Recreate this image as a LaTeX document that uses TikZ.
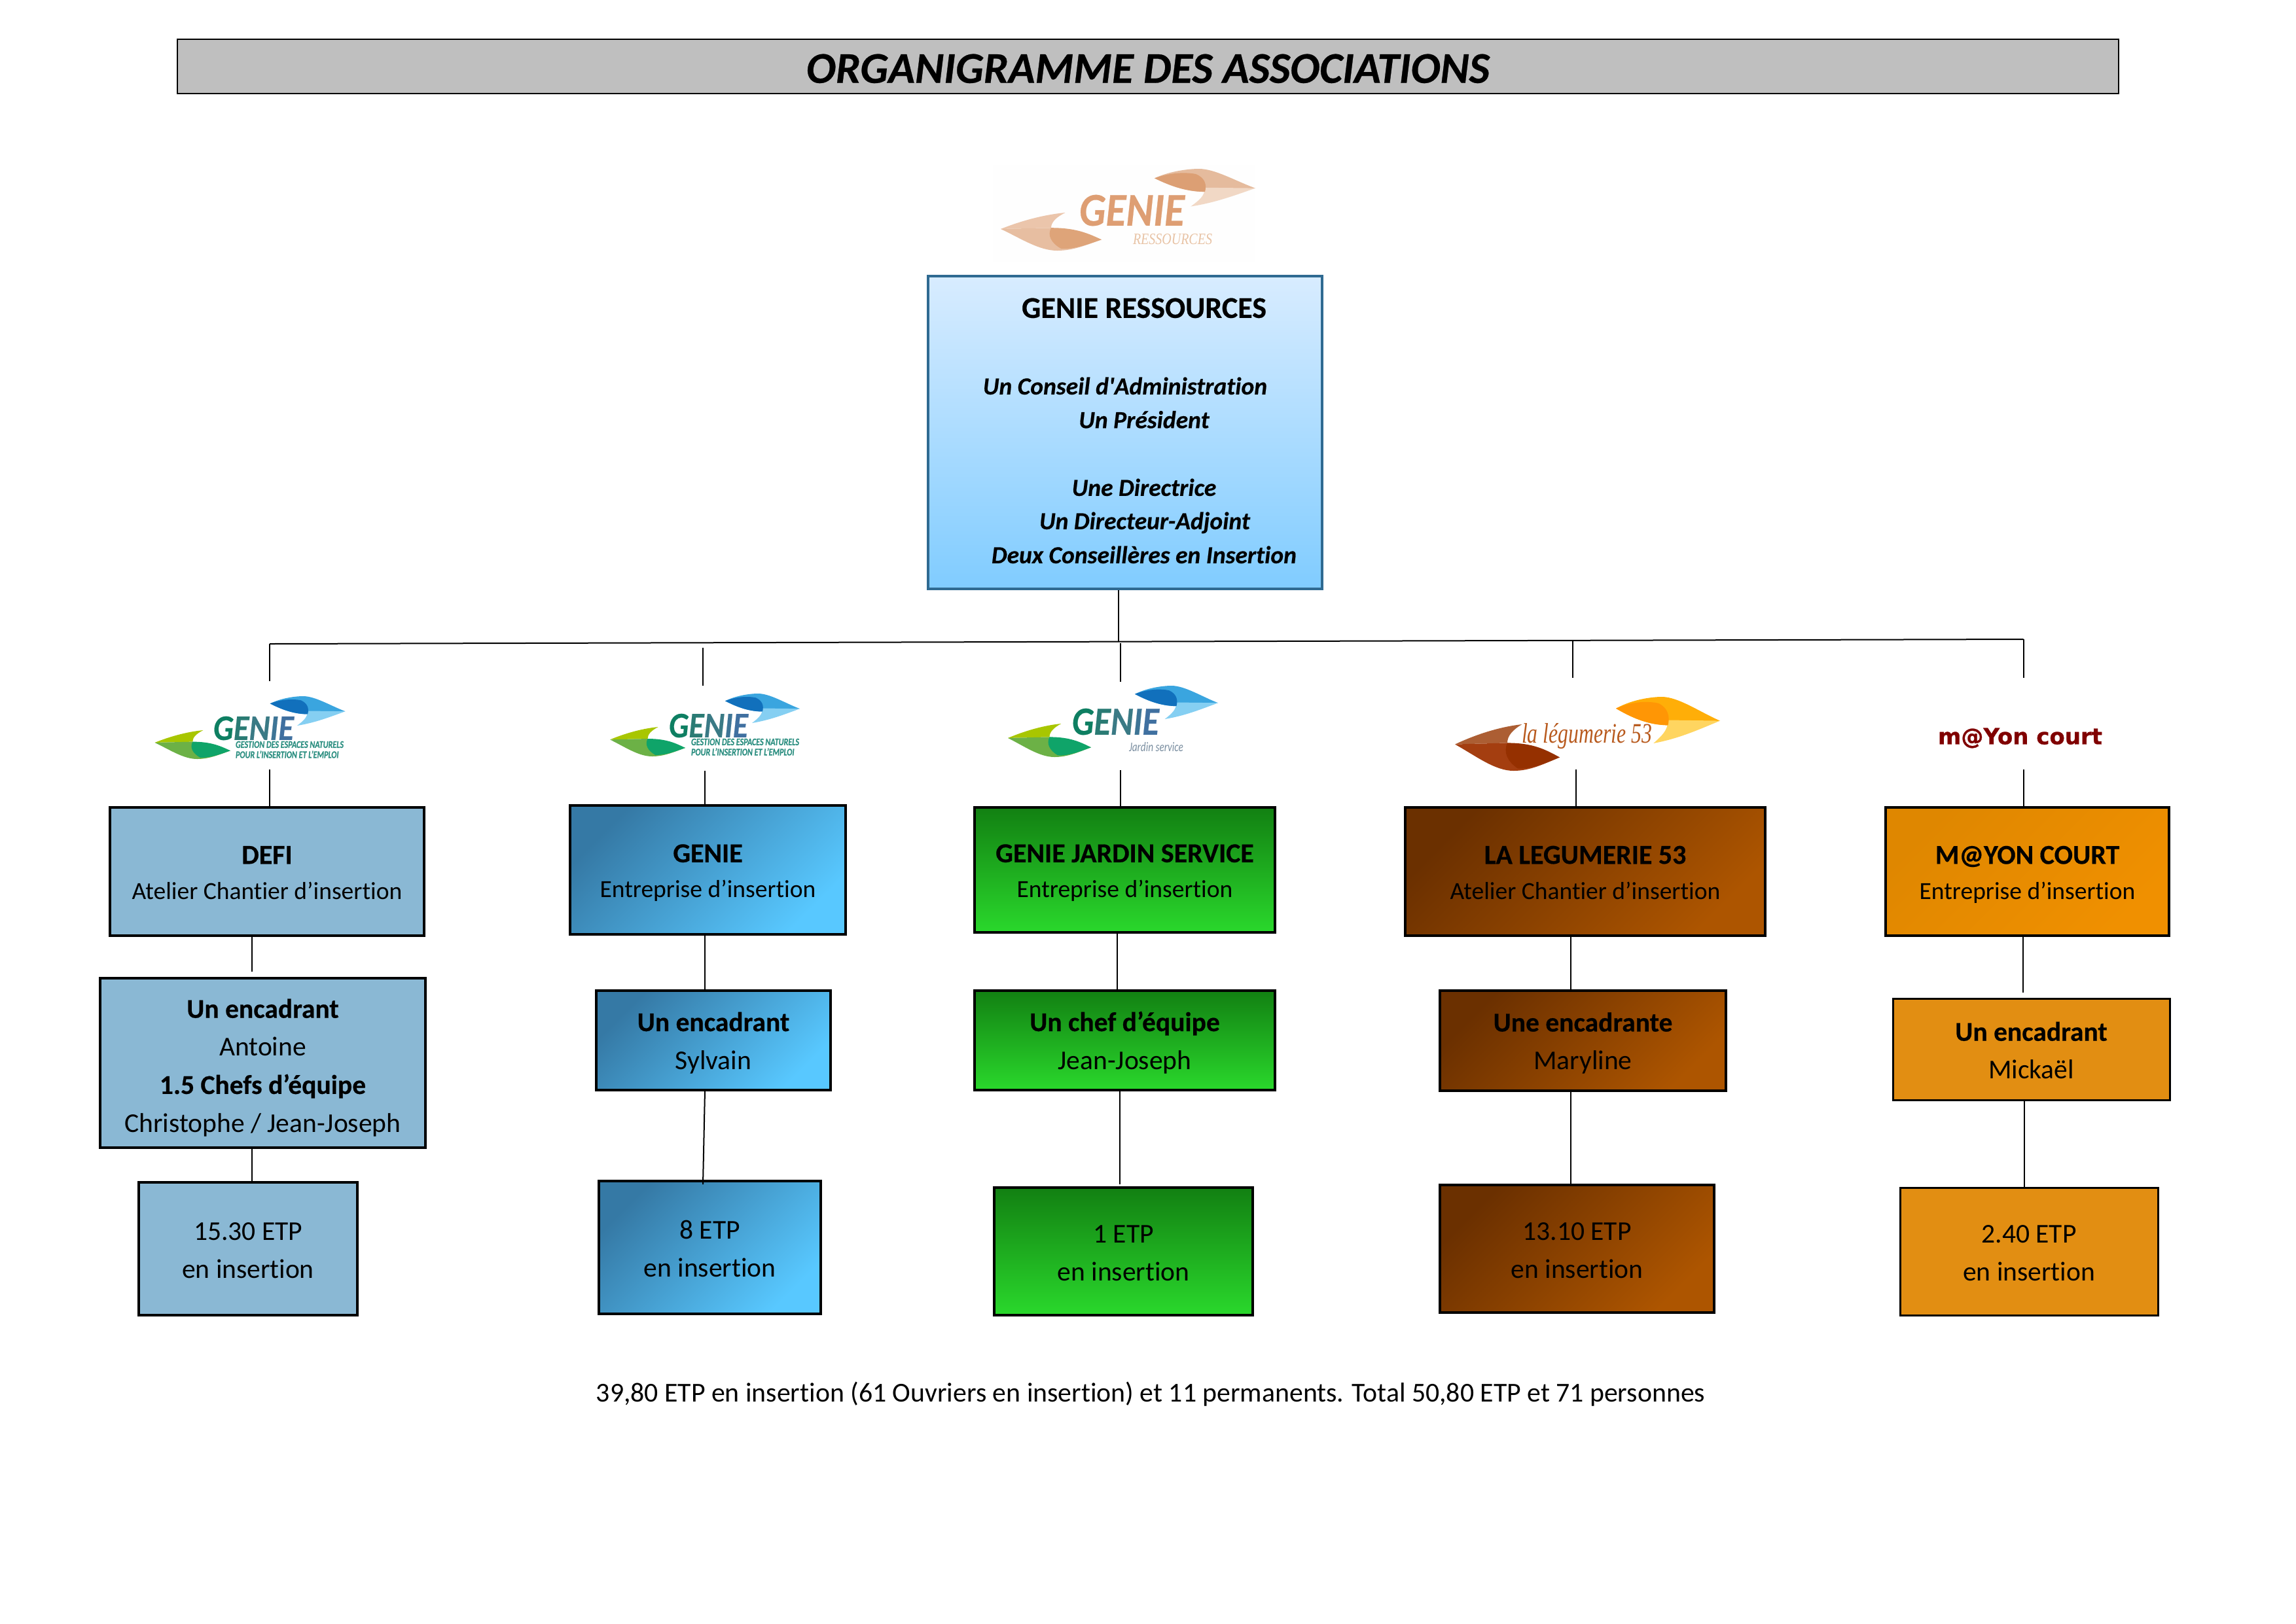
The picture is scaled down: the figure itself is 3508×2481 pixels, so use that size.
\documentclass[tikz,border=0pt]{standalone}
\usepackage{fontspec}
\usepackage{graphicx}
\setmainfont[Ligatures=NoCommon,BoldFeatures={FakeBold=0.4},BoldItalicFeatures={FakeBold=0.4}]{Carlito}
\newfontfamily\straightq[Ligatures=NoCommon,BoldItalicFeatures={FakeBold=0.4}]{Carlito}
\newfontfamily\serifa{Liberation Serif}
\newfontfamily\dejab[BoldFeatures={FakeBold=0.8}]{DejaVu Sans}
\newlength\px \setlength\px{0.24bp}
\definecolor{defic}{HTML}{8AB8D4}
\definecolor{genA}{HTML}{3579A5}
\definecolor{genB}{HTML}{58C8FF}
\definecolor{grA}{HTML}{128012}
\definecolor{grB}{HTML}{2AD82C}
\definecolor{brA}{HTML}{6B3000}
\definecolor{brB}{HTML}{AD5500}
\definecolor{orA}{HTML}{DF8700}
\definecolor{orB}{HTML}{F09000}
\definecolor{orC}{HTML}{E28E12}
\definecolor{resA}{HTML}{D8ECFF}
\definecolor{resB}{HTML}{80CCFF}
\definecolor{resL}{HTML}{2F6A91}
\definecolor{gT}{HTML}{BFBFBF}
\definecolor{gA}{HTML}{0E7F62}\definecolor{gB}{HTML}{2A7B74}\definecolor{gC}{HTML}{3A7A85}\definecolor{gD}{HTML}{3E7596}\definecolor{gE}{HTML}{4070A0}
\definecolor{gS}{HTML}{2B8E80}
\definecolor{bl1}{HTML}{3AA5DF}\definecolor{bl2}{HTML}{1170BC}\definecolor{bl3}{HTML}{85CFF2}
\definecolor{gr1}{HTML}{A8C600}\definecolor{gr2}{HTML}{6CB146}\definecolor{gr3}{HTML}{0FA469}
\definecolor{sa1}{HTML}{E5BB9D}\definecolor{sa2}{HTML}{DC9F74}\definecolor{sa3}{HTML}{F1D8C5}
\definecolor{sb1}{HTML}{EBC5AB}\definecolor{sb2}{HTML}{E7BEA1}\definecolor{sb3}{HTML}{DEA479}
\definecolor{or1}{HTML}{FFAE08}\definecolor{or2}{HTML}{FF9605}\definecolor{or3}{HTML}{FFD560}
\definecolor{br1}{HTML}{AC5E33}\definecolor{br2}{HTML}{A43E10}\definecolor{br3}{HTML}{953000}
\definecolor{sand}{HTML}{DE9E73}\definecolor{sandl}{HTML}{E8C3A5}
\definecolor{legt}{HTML}{B85A1E}\definecolor{maroon}{HTML}{800000}\definecolor{jard}{HTML}{7A8EA0}
\newcommand\orgstrut{\rule{0pt}{8.8bp}}
\newcommand\hd[1]{{\fontsize{10.1}{13}\selectfont\bfseries #1}}
\newcommand\dropA{\rule[-1.5bp]{0pt}{1bp}}
\newcommand\dropB{\rule[-1bp]{0pt}{1bp}}
\tikzset{
 orgbox/.style={draw=black,line width=3.5\px,inner sep=0pt,align=center,font=\fontsize{9.05}{13}\selectfont},
 wide/.style={font=\fontsize{10}{14}\selectfont},
 thinline/.style={line width=3\px},
 flatblue/.style={fill=defic},
 gengrad/.style={top color=genA,bottom color=genB,shading angle=45},
 greengrad/.style={top color=grA,bottom color=grB},
 browngrad/.style={top color=brA,bottom color=brB,shading angle=45},
 orangegrad/.style={top color=orA,bottom color=orB,shading angle=45},
 flatorange/.style={fill=orC},
 conn/.style={draw=black,line width=2\px},
 rootline/.style={inner sep=0pt,text height=6.9bp,text depth=0pt,font=\fontsize{9.05}{11}\selectfont\bfseries\itshape},
 logotext/.style={inner sep=0pt}
}
% name, x0, y0, x1, y1, style, text
\newcommand\orgnode[7]{%
 \pgfmathsetmacro\bw{#4-#2}\pgfmathsetmacro\bh{#5-#3}%
 \pgfmathsetmacro\bx{(#2+#4)/2}\pgfmathsetmacro\by{(#3+#5)/2}%
 \node[orgbox,#6,minimum width=\bw\px,minimum height=\bh\px] (#1) at (\bx,\by) {\orgstrut #7};}
% right leaf: x0 y0 x1 y1 c1 c2 c3
\newcommand\leafR[7]{\pgfmathsetmacro\lxs{(#3-#1)*0.24}\pgfmathsetmacro\lys{(#4-#2)*0.24}%
 \begin{scope}[shift={(#1,#2)},x=\lxs bp,y=-\lys bp]
 \fill[#5] (0,.25) .. controls (.16,.05) and (.35,0) .. (.44,0) .. controls (.6,0) and (.8,.32) .. (1,.515) -- (.5,.61) .. controls (.3,.61) and (.13,.42) .. (0,.25) -- cycle;
 \fill[#7] (.5,.5) -- (1,.515) .. controls (.78,.72) and (.6,.9) .. (.36,1) .. controls (.44,.84) and (.5,.72) .. (.5,.5) -- cycle;
 \fill[#6] (0,.25) .. controls (.16,.09) and (.32,.09) .. (.41,.14) .. controls (.5,.24) and (.52,.42) .. (.5,.61) .. controls (.3,.61) and (.13,.42) .. (0,.25) -- cycle;
\end{scope}}
\newcommand\leafL[7]{\pgfmathsetmacro\lxs{(#3-#1)*0.24}\pgfmathsetmacro\lys{(#4-#2)*0.24}%
 \begin{scope}[shift={(#1,#2)},x=\lxs bp,y=-\lys bp]
 \fill[#5] (.64,0) .. controls (.4,.06) and (.17,.25) .. (0,.43) -- (.5,.4) .. controls (.5,.25) and (.55,.12) .. (.64,0) -- cycle;
 \fill[#6] (0,.43) -- (.5,.4) -- (1,.71) .. controls (.85,.85) and (.72,1) .. (.56,1) .. controls (.38,1) and (.2,.68) .. (0,.43) -- cycle;
 \fill[#7] (.5,.4) .. controls (.75,.4) and (.87,.55) .. (1,.71) .. controls (.85,.85) and (.72,.97) .. (.6,.95) .. controls (.5,.8) and (.46,.6) .. (.5,.4) -- cycle;
\end{scope}}
\newcommand\genieword{{\bfseries\itshape\color{gA}G\color{gB}E\color{gC}N\color{gD}I\color{gE}E}}
\begin{document}
\begin{tikzpicture}[x=0.24bp,y=-0.24bp]
\useasboundingbox (0,0) rectangle (3508,2481);
% title
\orgnode{title}{271}{60}{3237}{143}{fill=gT,line width=2.5\px,font=\fontsize{16.2}{18}\selectfont\bfseries\itshape}{\rule{0pt}{12.2bp}ORGANIGRAMME DES ASSOCIATIONS}
% logo resources
\fill[white!99.5!black] (1517,252) rectangle (1918,401);
\leafR{1764}{258}{1918}{315.5}{sa1}{sa2}{sa3}
\leafL{1529}{325}{1683}{383}{sb1}{sb2}{sb3}
\node[logotext,text=sand] (lr) at (1729.5,321.5) {\resizebox{161\px}{47\px}{\bfseries\itshape GENIE}};
\node[logotext,text=sandl] (lrs) at (1791.5,366) {\resizebox{121\px}{16\px}{\serifa\itshape RESSOURCES}};
% root
\orgnode{root}{1418}{422}{2020}{900}{top color=resA,bottom color=resB,draw=resL}{}
\node[rootline,text height=7.6bp,font=\fontsize{11.1}{13}\selectfont\bfseries] (r1) at (1748,470) {GENIE RESSOURCES};
\node[rootline] (r2) at (1719,588.5) {Un Conseil d{\straightq\bfseries\itshape '}Administration};
\node[rootline] (r3) at (1748,640) {Un Président};
\node[rootline] (r4) at (1748,743.5) {Une Directrice};
\node[rootline] (r5) at (1749,794.5) {Un Directeur-Adjoint};
\node[rootline] (r6) at (1748,846.5) {Deux Conseillères en Insertion};
% bus
\coordinate (busL) at (412,984);
\coordinate (busR) at (3091.5,977);
\coordinate (bus0) at (1709,981);
\draw[conn] (root.south -| bus0) -- (bus0);
\draw[conn] (busL) -- (busR);
% logos
\leafR{412.6}{1064}{527.6}{1109}{bl1}{bl2}{bl3}
\leafL{236.5}{1116}{352}{1160}{gr1}{gr2}{gr3}
\node[logotext] (l1) at (387.5,1113) {\resizebox{123\px}{36\px}{\genieword}};
\node[logotext,text=gS] (l1a) at (442.5,1147) {\resizebox{165\px}{21\px}{\bfseries\itshape\begin{tabular}{@{}l@{}}GESTION DES ESPACES NATURELS\\[-2pt]POUR L'INSERTION ET L'EMPLOI\end{tabular}}};
\leafR{1108}{1060}{1222}{1105}{bl1}{bl2}{bl3}
\leafL{932}{1111}{1047}{1156}{gr1}{gr2}{gr3}
\node[logotext] (l2) at (1082.5,1109) {\resizebox{121\px}{36\px}{\genieword}};
\node[logotext,text=gS] (l2a) at (1138.5,1143) {\resizebox{165\px}{21\px}{\bfseries\itshape\begin{tabular}{@{}l@{}}GESTION DES ESPACES NATURELS\\[-2pt]POUR L'INSERTION ET L'EMPLOI\end{tabular}}};
\leafR{1734}{1048}{1861}{1099}{bl1}{bl2}{bl3}
\leafL{1540}{1106}{1667}{1157}{gr1}{gr2}{gr3}
\node[logotext] (l3) at (1704.5,1103) {\resizebox{133\px}{40\px}{\genieword}};
\node[logotext,text=jard] (l3a) at (1766.5,1142) {\resizebox{83\px}{14\px}{\itshape Jardin service}};
\leafR{2469}{1065}{2628}{1136}{or1}{or2}{or3}
\leafL{2223}{1107}{2383}{1178}{br1}{br2}{br3}
\node[logotext,text=legt] (l4) at (2424.5,1125) {\resizebox{199\px}{30\px}{\serifa\itshape la légumerie 53}};
\node[logotext,text=maroon] (l5) at (3086.5,1128) {\resizebox{251\px}{!}{\dejab\bfseries m@Yon court}};
% column 1
\orgnode{a1}{168}{1234}{648}{1430}{flatblue}{\hd{DEFI}\\Atelier Chantier d’insertion\dropA}
\orgnode{a2}{153}{1495}{650}{1754}{flatblue,wide}{\rule{0pt}{10.4bp}\textbf{Un encadrant}\\Antoine\\\textbf{1.5 Chefs d’équipe}\\Christophe / Jean-Joseph}
\orgnode{a3}{212}{1807}{546}{2010}{flatblue,wide}{15.30 ETP\\en insertion\dropB}
% column 2
\orgnode{b1}{871}{1231}{1292}{1428}{gengrad}{\hd{GENIE}\\Entreprise d’insertion}
\orgnode{b2}{911}{1514}{1269}{1666}{gengrad,wide}{\textbf{Un encadrant}\\Sylvain}
\orgnode{b3}{915}{1805}{1254}{2008}{gengrad,wide}{8 ETP\\en insertion\dropB}
% column 3
\orgnode{c1}{1489}{1234}{1948}{1425}{greengrad}{\hd{GENIE JARDIN SERVICE}\\Entreprise d’insertion}
\orgnode{c2}{1489}{1514}{1948}{1666}{greengrad,wide}{\textbf{Un chef d’équipe}\\Jean-Joseph}
\orgnode{c3}{1519}{1815}{1914}{2010}{greengrad,wide}{1 ETP\\en insertion\dropB}
% column 4
\orgnode{d1}{2147}{1234}{2697}{1430}{browngrad}{\hd{LA LEGUMERIE 53}\\Atelier Chantier d’insertion\dropA}
\orgnode{d2}{2200}{1514}{2637}{1667}{browngrad,wide}{\textbf{Une encadrante}\\Maryline}
\orgnode{d3}{2200}{1811}{2619}{2006}{browngrad,wide}{13.10 ETP\\en insertion\dropB}
% column 5
\orgnode{e1}{2881}{1234}{3314}{1430}{orangegrad}{\hd{M@YON COURT}\\Entreprise d’insertion}
\orgnode{e2}{2892}{1526}{3315}{1681}{flatorange,wide,thinline}{\textbf{Un encadrant}\\Mickaël\dropB}
\orgnode{e3}{2903}{1815}{3297}{2010}{flatorange,wide,thinline}{2.40 ETP\\en insertion\dropB}
% drops from the bus
\coordinate (t1a) at (412,984); \coordinate (t1b) at (412,1041);
\coordinate (t2a) at (1074,990); \coordinate (t2b) at (1074,1048);
\coordinate (t3a) at (1712,983); \coordinate (t3b) at (1712,1042);
\coordinate (t4a) at (2403,978); \coordinate (t4b) at (2403,1036);
\coordinate (t5a) at (3091.5,977); \coordinate (t5b) at (3091.5,1036);
\foreach \k in {1,...,5} {\draw[conn] (t\k a) -- (t\k b);}
% from logos to first boxes
\coordinate (u1) at (412,1176); \coordinate (u2) at (1077,1178); \coordinate (u3) at (1712,1177); \coordinate (u4) at (2408,1176); \coordinate (u5) at (3091.5,1176);
\draw[conn] (u1) -- (a1.north -| u1);
\draw[conn] (u2) -- (b1.north -| u2);
\draw[conn] (u3) -- (c1.north -| u3);
\draw[conn] (u4) -- (d1.north -| u4);
\draw[conn] (u5) -- (e1.north -| u5);
% inside the columns
\coordinate (x1) at (385,1485); \coordinate (x2) at (1077,0); \coordinate (x3a) at (1707,0); \coordinate (x3b) at (1711,1810); \coordinate (x4) at (2400,1510); \coordinate (x5) at (3091,1517); \coordinate (x5b) at (3093,0);
\draw[conn] (a1.south -| x1) -- (x1);
\draw[conn] (a2.south -| x1) -- (a3.north -| x1);
\draw[conn] (b1.south -| x2) -- (b2.north -| x2);
\coordinate (x2a) at (1077,1667); \coordinate (x2b) at (1074,1810);
\draw[conn] (x2a) -- (x2b);
\draw[conn] (c1.south -| x3a) -- (c2.north -| x3a);
\draw[conn] (c2.south -| x3b) -- (x3b);
\draw[conn] (d1.south -| x4) -- (d2.north -| x4);
\draw[conn] (d2.south -| x4) -- (d3.north -| x4);
\draw[conn] (e1.south -| x5) -- (x5);
\draw[conn] (e2.south -| x5b) -- (e3.north -| x5b);
% bottom text
\node[inner sep=0pt,font=\fontsize{10.06}{12}\selectfont] (foot) at (1758,2131) {39,80 ETP en insertion (61 Ouvriers en insertion) et 11 permanents. Total 50,80 ETP et 71 personnes};
\end{tikzpicture}
\end{document}
